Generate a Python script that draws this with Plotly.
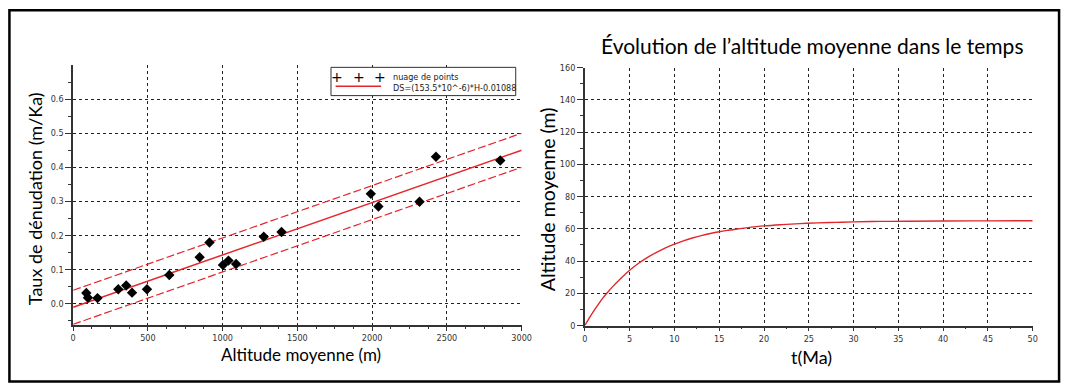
import plotly.graph_objects as go

# ---------------- data ----------------
altitude_m = [88, 99, 163, 302, 355, 394, 494, 643, 846, 912, 1002, 1039, 1090,
              1275, 1394, 1991, 2042, 2317, 2427, 2857]
denudation = [0.031, 0.017, 0.016, 0.042, 0.053, 0.032, 0.042, 0.084, 0.136, 0.179,
              0.113, 0.126, 0.116, 0.196, 0.210, 0.322, 0.285, 0.299, 0.431, 0.420]

fit_x = [0, 3000]
fit_y = [-0.011, 0.450]
upper_y = [0.039, 0.500]
lower_y = [-0.061, 0.400]

t_ma = [0, 0.5, 1, 1.5, 2, 2.5, 3, 4, 5, 6, 7, 8, 9, 10, 11, 12, 13, 14, 15, 16,
        17, 18, 20, 22, 24, 26, 28, 30, 33, 36, 40, 45, 50]
alt_moy = [0, 4.7, 9.1, 13.1, 17.0, 20.3, 23.5, 29.2, 34.3, 38.6, 42.3, 45.4, 48.2,
           50.5, 52.5, 54.3, 55.8, 57.1, 58.2, 59.1, 59.9, 60.6, 61.8, 62.6, 63.2,
           63.7, 64.0, 64.3, 64.6, 64.7, 64.85, 64.95, 65.0]

legend_labels = ["nuage de points", "DS=(153.5*10^-6)*H-0.01088"]

W, H = 1075, 388
def px(x):
    return x / W
def py(y):
    return 1 - y / H

RED = "#e3262b"
TICKFONT = dict(family="Liberation Sans Narrow, DejaVu Sans Condensed, Liberation Sans, Arial",
                size=9, color="#333")
TITLEFONT = "Lato, Carlito, Calibri, sans-serif"
SMALLFONT = "Liberation Sans Narrow, DejaVu Sans Condensed, Liberation Sans"

fig = go.Figure()

fig.add_trace(go.Scatter(x=fit_x, y=upper_y, mode="lines",
                         line=dict(color=RED, width=1.2, dash="8px,3px"),
                         xaxis="x", yaxis="y", showlegend=False))
fig.add_trace(go.Scatter(x=fit_x, y=lower_y, mode="lines",
                         line=dict(color=RED, width=1.2, dash="8px,3px"),
                         xaxis="x", yaxis="y", showlegend=False))
fig.add_trace(go.Scatter(x=fit_x, y=fit_y, mode="lines",
                         line=dict(color=RED, width=1.5),
                         xaxis="x", yaxis="y", showlegend=False))
fig.add_trace(go.Scatter(x=altitude_m, y=denudation, mode="markers",
                         marker=dict(symbol="diamond", size=8, color="black"),
                         xaxis="x", yaxis="y", showlegend=False))

fig.add_trace(go.Scatter(x=t_ma, y=alt_moy, mode="lines",
                         line=dict(color=RED, width=1.4, shape="spline"),
                         xaxis="x2", yaxis="y2", showlegend=False))

axis_common = dict(showline=True, linecolor="#333", linewidth=1.5,
                   showgrid=True, gridcolor="#222", gridwidth=1, griddash="3px,3px",
                   zeroline=False, ticks="outside", tickcolor="#333",
                   tickfont=TICKFONT, mirror=False)

fig.update_layout(
    width=W, height=H,
    margin=dict(l=0, r=0, t=0, b=0),
    paper_bgcolor="white", plot_bgcolor="white",
    showlegend=False,
    xaxis=dict(domain=[px(71), px(525)], range=[0, 3000], dtick=500, tick0=0,
               ticklen=4, anchor="y",
               minor=dict(dtick=125, tick0=0, ticklen=2, ticks="outside",
                          tickcolor="#333", showgrid=False),
               **axis_common),
    yaxis=dict(domain=[py(328.3), py(62)], range=[-0.0625, 0.699], dtick=0.1, tick0=0,
               tickformat=".1f", ticklen=6, anchor="x",
               minor=dict(dtick=0.05, tick0=0, ticklen=3, ticks="outside",
                          tickcolor="#333", showgrid=False),
               **axis_common),
    xaxis2=dict(domain=[px(589), px(1042.3)], range=[0, 50], dtick=5, tick0=0,
                ticklen=4, anchor="y2",
                minor=dict(dtick=2.5, tick0=0, ticklen=2, ticks="outside",
                           tickcolor="#333", showgrid=False),
                **axis_common),
    yaxis2=dict(domain=[py(329), py(64.3)], range=[0, 160], dtick=20, tick0=0,
                ticklen=6, anchor="x2",
                minor=dict(dtick=10, tick0=0, ticklen=3, ticks="outside",
                           tickcolor="#333", showgrid=False),
                **axis_common),
)

annotations = [
    dict(text="Taux de dénudation (m/Ka)", x=px(32.7), y=py(199), textangle=-90,
         font=dict(family=TITLEFONT, size=18, color="black")),
    dict(text="Altitude moyenne (m)", x=px(302), y=py(359),
         font=dict(family=TITLEFONT, size=17, color="black")),
    dict(text="Évolution de l’altitude moyenne dans le temps", x=px(818.5), y=py(42),
         font=dict(family=TITLEFONT, size=21, color="black")),
    dict(text="Altitude moyenne (m)", x=px(552), y=py(199), textangle=-90,
         font=dict(family=TITLEFONT, size=19.5, color="black")),
    dict(text="t(Ma)", x=px(818), y=py(361.7),
         font=dict(family=TITLEFONT, size=18, color="black")),
]
# legend box content
for xp in (338, 360, 382):
    annotations.append(dict(text="+", x=px(xp), y=py(73.5),
                            font=dict(family="DejaVu Sans", size=14, color="black")))
annotations.append(dict(text=legend_labels[0], x=px(392.7), y=py(74), xanchor="left",
                        font=dict(family=SMALLFONT, size=9, color="#222")))
annotations.append(dict(text=legend_labels[1], x=px(392.7), y=py(85), xanchor="left",
                        font=dict(family=SMALLFONT, size=9, color="#222")))
for a in annotations:
    a.setdefault("xref", "paper")
    a.setdefault("yref", "paper")
    a.setdefault("showarrow", False)
    a.setdefault("xanchor", "center")
    a.setdefault("yanchor", "middle")
fig.update_layout(annotations=annotations)

shapes = [
    dict(type="rect", xref="paper", yref="paper", x0=px(332), x1=px(519), y0=py(93), y1=py(64),
         line=dict(color="#333", width=1), fillcolor="white", layer="above"),
    dict(type="line", xref="paper", yref="paper", x0=px(336.7), x1=px(382.7), y0=py(83.3), y1=py(83.3),
         line=dict(color=RED, width=1.5), layer="above"),
    dict(type="rect", xref="paper", yref="paper", x0=px(6.5), x1=px(1069), y0=py(386.5), y1=py(5.5),
         line=dict(color="black", width=2.5), layer="above"),
]
fig.update_layout(shapes=shapes)

fig.write_html("out.html")
